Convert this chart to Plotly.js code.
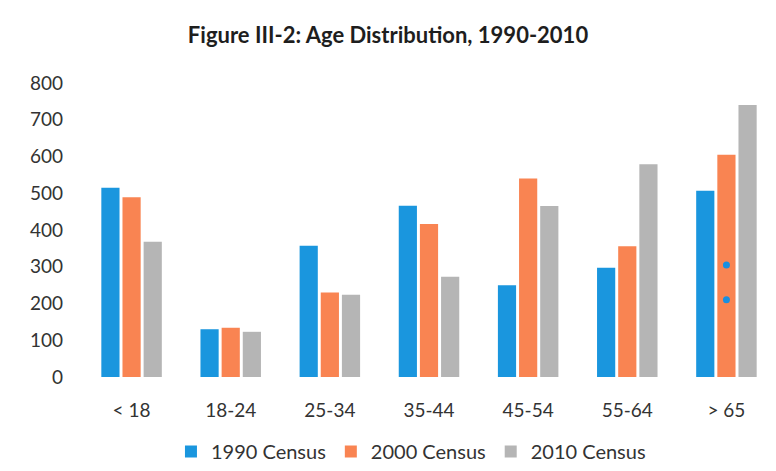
<!DOCTYPE html>
<html>
<head>
<meta charset="utf-8">
<script src="https://cdn.plot.ly/plotly-3.0.1.min.js"></script>
<style>
  html, body { margin: 0; padding: 0; background: #fff; }
  #chart { width: 776px; height: 471px; }
</style>
</head>
<body>
<div id="chart"></div>
<script>
// age groups and census counts
const ageGroups = ["< 18", "18-24", "25-34", "35-44", "45-54", "55-64", "> 65"];
const census1990 = [515, 130, 357, 466, 250, 297, 507];
const census2000 = [489, 134, 230, 416, 540, 356, 605];
const census2010 = [368, 123, 224, 273, 465, 579, 740];

// two stray blue specks on the scan, sitting on the > 65 group
const strayX = ["> 65", "> 65"];
const strayY = [305, 210];

const fontFam = "Lato, 'Open Sans', sans-serif";

function barTrace(name, values, color) {
  return {
    type: "bar",
    name: name,
    x: ageGroups,
    y: values,
    marker: { color: color },
    hoverinfo: "x+y+name"
  };
}

const traces = [
  barTrace("1990 Census", census1990, "#1a96de"),
  barTrace("2000 Census", census2000, "#f98452"),
  barTrace("2010 Census", census2010, "#b5b5b5"),
  {
    type: "scatter",
    mode: "markers",
    x: strayX,
    y: strayY,
    marker: { color: "#1a8fe0", size: 7 },
    showlegend: false,
    hoverinfo: "skip"
  }
];

const layout = {
  width: 776,
  height: 471,
  paper_bgcolor: "#fff",
  plot_bgcolor: "#fff",
  font: { family: fontFam, color: "#333", size: 19 },
  title: {
    text: "<b>Figure III-2: Age Distribution, 1990-2010</b>",
    font: { family: fontFam, size: 22, color: "#1e1e1e" },
    x: 0.5,
    xanchor: "center",
    y: 0.925,
    yanchor: "middle"
  },
  margin: { t: 83, b: 94, l: 82, r: 0 },
  barmode: "group",
  bargap: 0.36,
  bargroupgap: 0.14,
  xaxis: {
    showgrid: false,
    showline: false,
    zeroline: false,
    ticks: "",
    ticklabelstandoff: 20,
    tickfont: { size: 19 }
  },
  yaxis: {
    range: [0, 800],
    dtick: 100,
    showgrid: false,
    showline: false,
    zeroline: false,
    ticks: "",
    ticklabelstandoff: 18,
    tickfont: { size: 19 }
  },
  legend: {
    orientation: "h",
    x: 0.474,
    xanchor: "center",
    y: -0.255,
    yanchor: "middle",
    font: { size: 20 },
    itemwidth: 30,
    traceorder: "normal"
  },
  showlegend: true
};

Plotly.newPlot("chart", traces, layout, { displayModeBar: false, staticPlot: true });
</script>
</body>
</html>
